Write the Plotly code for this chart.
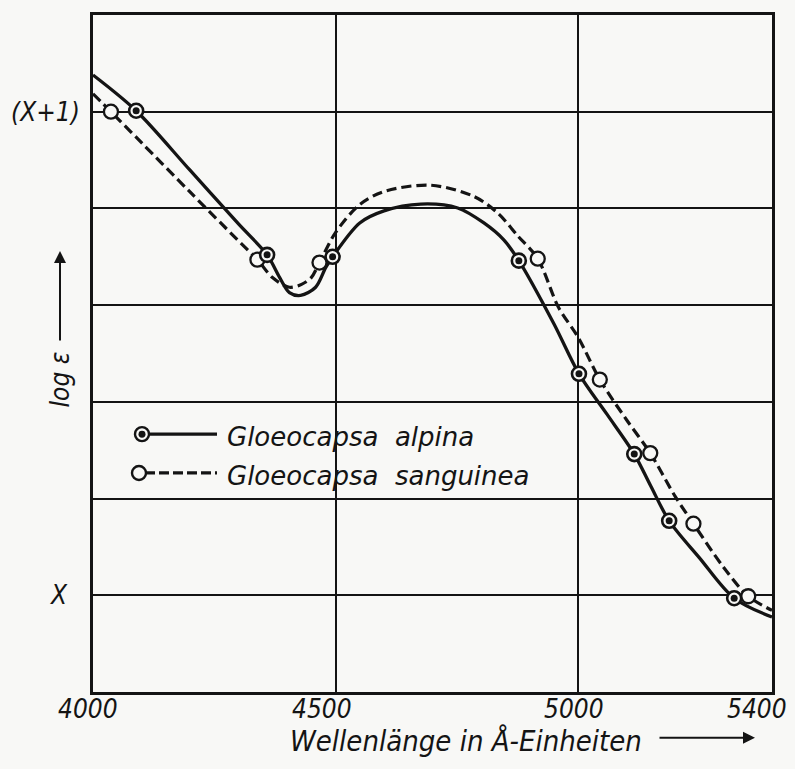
import plotly.graph_objects as go

# ---------------- data ----------------
# smooth drawn curves (wavelength in Å, log ε relative to X)
alpina_curve_wl = [4000, 4089, 4200, 4300, 4359, 4385, 4405, 4428, 4459, 4480, 4494,
                   4550, 4600, 4676, 4752, 4806, 4847, 4878, 4950, 5002, 5060, 5116, 5150,
                   5188, 5250, 5322, 5400]
alpina_curve_val = [1.076, 1.002, 0.879, 0.768, 0.704, 0.657, 0.626, 0.620, 0.637, 0.678, 0.700,
                    0.770, 0.795, 0.809, 0.801, 0.770, 0.735, 0.692, 0.562, 0.458, 0.374, 0.292, 0.226,
                    0.154, 0.078, -0.006, -0.045]

sanguinea_curve_wl = [4000, 4037, 4100, 4200, 4300, 4339, 4370, 4405, 4430, 4450, 4467,
                      4500, 4550, 4600, 4696, 4785, 4835, 4876, 4917, 4960, 5000, 5045, 5100,
                      5149, 5200, 5238, 5300, 5351, 5400]
sanguinea_curve_val = [1.037, 1.000, 0.936, 0.834, 0.733, 0.694, 0.657, 0.637, 0.643, 0.657, 0.688,
                       0.750, 0.808, 0.835, 0.848, 0.825, 0.790, 0.743, 0.696, 0.595, 0.534, 0.446, 0.363,
                       0.294, 0.205, 0.148, 0.058, -0.002, -0.031]

# measured points
alpina_wl = [4089, 4359, 4494, 4878, 5002, 5116, 5188, 5322]
alpina_val = [1.002, 0.704, 0.700, 0.692, 0.458, 0.292, 0.154, -0.006]
sanguinea_wl = [4037, 4339, 4467, 4917, 5045, 5149, 5238, 5351]
sanguinea_val = [1.000, 0.694, 0.688, 0.696, 0.446, 0.294, 0.148, -0.002]

x_ticks = [4000, 4500, 5000, 5400]
x_tick_labels = ["4000", "4500", "5000", "5400"]
y_ticks = [0, 1]
y_tick_labels = ["X", "(X+1)"]
series_names = ["Gloeocapsa  alpina", "Gloeocapsa  sanguinea"]

# ---------------- style ----------------
INK = "#141414"
BG = "#f8f8f6"
FONT_C = "DejaVu Sans Condensed, DejaVu Sans, sans-serif"
FONT_W = "DejaVu Sans, sans-serif"
W, H = 795, 769
L, R, T, B = 93, 772, 12, 692  # plot area in pixels


def px(xp):
    return (xp - L) / (R - L)


def py(yp):
    return (B - yp) / (B - T)


fig = go.Figure()

fig.add_trace(go.Scatter(x=sanguinea_curve_wl, y=sanguinea_curve_val, mode="lines",
                         line=dict(color=INK, width=3.2, dash="10px,5px", shape="spline", smoothing=0.9),
                         showlegend=False, hoverinfo="skip"))
fig.add_trace(go.Scatter(x=alpina_curve_wl, y=alpina_curve_val, mode="lines",
                         line=dict(color=INK, width=3.3, shape="spline", smoothing=0.9),
                         showlegend=False, hoverinfo="skip"))

fig.add_trace(go.Scatter(x=sanguinea_wl, y=sanguinea_val, mode="markers", name=series_names[1],
                         marker=dict(symbol="circle", size=14, color=BG, line=dict(color=INK, width=2.3)),
                         showlegend=False))
fig.add_trace(go.Scatter(x=alpina_wl, y=alpina_val, mode="markers", name=series_names[0],
                         marker=dict(symbol="circle", size=14, color=BG, line=dict(color=INK, width=2.6)),
                         showlegend=False))
fig.add_trace(go.Scatter(x=alpina_wl, y=alpina_val, mode="markers",
                         marker=dict(symbol="circle", size=7, color=INK, line=dict(width=0)),
                         showlegend=False, hoverinfo="skip"))

shapes = []
annotations = []

# ----- legend drawn by hand -----
leg_rows = [(433, "solid", True), (472, "dash", False)]
for (yy, dash, filled), name in zip(leg_rows, series_names):
    x0 = 148 if filled else 145
    shapes.append(dict(type="line", xref="paper", yref="paper",
                       x0=px(x0), x1=px(217), y0=py(yy), y1=py(yy),
                       line=dict(color=INK, width=3.2, dash="solid" if dash == "solid" else "10px,4px")))
    cx = 142 if filled else 139
    shapes.append(dict(type="circle", xref="paper", yref="paper",
                       x0=px(cx - 7), x1=px(cx + 7), y0=py(yy + 7), y1=py(yy - 7),
                       fillcolor=BG, line=dict(color=INK, width=2.4)))
    if filled:
        shapes.append(dict(type="circle", xref="paper", yref="paper",
                           x0=px(cx - 3.5), x1=px(cx + 3.5), y0=py(yy + 3.5), y1=py(yy - 3.5),
                           fillcolor=INK, line=dict(color=INK, width=0)))
    annotations.append(dict(text=name, xref="paper", yref="paper", x=px(225), y=py(yy + 3),
                            xanchor="left", yanchor="middle", showarrow=False,
                            font=dict(family=FONT_W, size=26, color=INK, style="italic")))

# ----- x tick labels -----
x_shifts = [-5, -14, -4, -15]
for v, lab, sh in zip(x_ticks, x_tick_labels, x_shifts):
    annotations.append(dict(text=lab, x=v, xref="x", y=py(709), yref="paper", xshift=sh,
                            xanchor="center", yanchor="middle", showarrow=False,
                            font=dict(family=FONT_C, size=26, color=INK, style="italic")))

# ----- y tick labels -----
y_right = [70, 82]
for v, lab, xr in zip(y_ticks, y_tick_labels, y_right):
    annotations.append(dict(text=lab, x=px(xr), xref="paper", y=v, yref="y",
                            xanchor="right", yanchor="middle", showarrow=False,
                            font=dict(family=FONT_C, size=26, color=INK, style="italic")))

# ----- axis titles -----
annotations.append(dict(text="Wellenlänge in Å-Einheiten", x=px(466), y=py(741), xref="paper", yref="paper",
                        xanchor="center", yanchor="middle", showarrow=False,
                        font=dict(family=FONT_C, size=29, color=INK, style="italic")))
annotations.append(dict(text="", x=px(755), y=py(738), xref="paper", yref="paper",
                        ax=-97, ay=0, showarrow=True, arrowhead=2, arrowsize=1.2, arrowwidth=2,
                        arrowcolor=INK))
annotations.append(dict(text="log ε", x=px(60), y=py(378), xref="paper", yref="paper",
                        textangle=-90, xanchor="center", yanchor="middle", showarrow=False,
                        font=dict(family=FONT_C, size=26, color=INK, style="italic")))
annotations.append(dict(text="", x=px(60), y=py(249), xref="paper", yref="paper",
                        ax=0, ay=91, showarrow=True, arrowhead=2, arrowsize=1.2, arrowwidth=2,
                        arrowcolor=INK))

fig.update_layout(
    width=W, height=H,
    margin=dict(l=L, r=W - R, t=T, b=H - B),
    paper_bgcolor=BG, plot_bgcolor=BG,
    showlegend=False,
    shapes=shapes, annotations=annotations,
    xaxis=dict(range=[4000, 5400], tickvals=[4500, 5000], showticklabels=False, ticks="",
               showgrid=True, gridcolor=INK, gridwidth=1.7, zeroline=False,
               showline=True, linecolor=INK, linewidth=2.8, mirror=True),
    yaxis=dict(range=[-0.2, 1.2], tickvals=[0, 0.2, 0.4, 0.6, 0.8, 1.0], showticklabels=False, ticks="",
               showgrid=True, gridcolor=INK, gridwidth=1.7, zeroline=False,
               showline=True, linecolor=INK, linewidth=2.8, mirror=True),
)

fig.write_html("out.html")
